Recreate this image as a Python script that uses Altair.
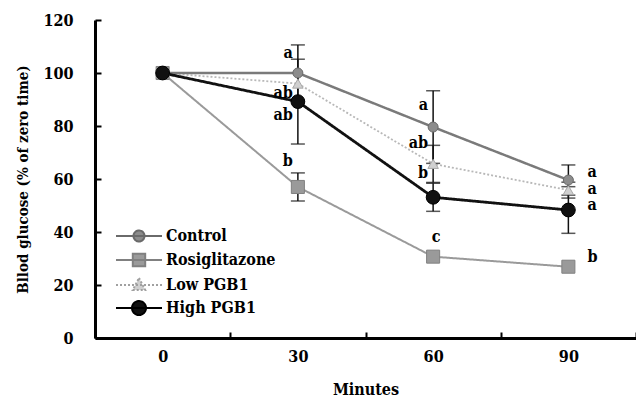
import altair as alt
import pandas as pd

# ---------------- data ----------------
minutes = [0, 30, 60, 90]
series_names = ["Control", "Rosiglitazone", "Low PGB1", "High PGB1"]

control = [100, 100, 79.6, 59.6]
control_err = [0, 10.6, 13.7, 5.7]
rosi = [100, 57.0, 30.7, 26.9]
rosi_err = [0, 5.3, 0, 0]
low = [100, 96.0, 65.7, 55.8]
low_err = [0, 0, 7.0, 3.0]
high = [100, 89.2, 53.1, 48.3]
high_err = [0, 16.0, 5.3, 8.8]

ann_minute = [30, 30, 30, 30, 60, 60, 60, 60, 90, 90, 90, 90]
ann_value = [107.5, 92.5, 84.0, 66.8, 88.0, 73.6, 62.3, 38.0, 62.6, 56.2, 50.2, 30.6]
ann_text = ["a", "ab", "ab", "b", "a", "ab", "b", "c", "a", "a", "a", "b"]

y_ticks = [0, 20, 40, 60, 80, 100, 120]

# ---------------- tables ----------------
rows = []
for name, vals, errs in zip(series_names, [control, rosi, low, high],
                            [control_err, rosi_err, low_err, high_err]):
    for m, v, e in zip(minutes, vals, errs):
        rows.append({"series": name, "minute": m, "value": v, "err": e,
                     "lo": v - e, "hi": v + e})
df = pd.DataFrame(rows)
ann = pd.DataFrame({"minute": ann_minute, "value": ann_value, "text": ann_text})

# ---------------- styles ----------------
FONT = "DejaVu Serif Condensed"
line_color = {"Control": "#7a7a7a", "Rosiglitazone": "#9a9a9a",
              "Low PGB1": "#b8b8b8", "High PGB1": "#111111"}
line_width = {"Control": 2.5, "Rosiglitazone": 2.0, "Low PGB1": 1.8, "High PGB1": 2.8}
line_dash = {"Control": [1, 0], "Rosiglitazone": [1, 0], "Low PGB1": [2, 2], "High PGB1": [1, 0]}
pt_shape = {"Control": "circle", "Rosiglitazone": "square",
            "Low PGB1": "triangle-up", "High PGB1": "circle"}
pt_size = {"Control": 100, "Rosiglitazone": 170, "Low PGB1": 110, "High PGB1": 190}
pt_fill = {"Control": "#8c8c8c", "Rosiglitazone": "#9a9a9a",
           "Low PGB1": "#d0d0d0", "High PGB1": "#111111"}
pt_stroke = {"Control": "#6a6a6a", "Rosiglitazone": "#808080",
             "Low PGB1": "#a8a8a8", "High PGB1": "#000000"}

W, H = 541, 318
TICK = 6
xscale = alt.Scale(type="band", domain=minutes, paddingInner=0, paddingOuter=0)
yscale = alt.Scale(domain=[0, 120], nice=False, zero=True)

# inward ticks are drawn as very short dashed grid lines touching the axis
x_main = alt.X("minute:O", scale=xscale, axis=alt.Axis(
    title="Minutes", labelAngle=0, ticks=False, tickBand="extent",
    grid=True, gridColor="black", gridWidth=2, gridOpacity=1,
    gridDash=[TICK, H - TICK], gridDashOffset=TICK,
    domainColor="black", domainWidth=3,
    labelFont=FONT, labelFontSize=16, labelFontWeight="bold", labelColor="black",
    labelPadding=10,
    titleFont=FONT, titleFontSize=16, titleFontWeight="bold", titleColor="black",
    titlePadding=17))
y_main = alt.Y("value:Q", scale=yscale, axis=alt.Axis(
    title="Bllod glucose (% of zero time)", values=y_ticks, ticks=False,
    grid=True, gridColor="black", gridWidth=2, gridDash=[TICK, 2000], gridOpacity=1,
    domainColor="black", domainWidth=3,
    labelFont=FONT, labelFontSize=16, labelFontWeight="bold", labelColor="black",
    labelPadding=22,
    titleFont=FONT, titleFontSize=15, titleFontWeight="bold", titleColor="black",
    titlePadding=12))

x_plain = alt.X("minute:O", scale=xscale, axis=None)
y_plain = alt.Y("value:Q", scale=yscale, axis=None)

layers = []

# lines
order = ["Low PGB1", "Rosiglitazone", "Control", "High PGB1"]
for i, s in enumerate(order):
    base = alt.Chart(df).transform_filter(alt.datum.series == s)
    layers.append(base.mark_line(color=line_color[s], strokeWidth=line_width[s],
                                 strokeDash=line_dash[s]).encode(
        x=x_main if i == 0 else x_plain,
        y=y_main if i == 0 else y_plain))

# error bars
eb = alt.Chart(df).transform_filter("datum.err > 0")
layers.append(eb.mark_rule(color="#111111", strokeWidth=1.5).encode(
    x=x_plain, y=alt.Y("lo:Q", scale=yscale, axis=None), y2="hi:Q"))
layers.append(eb.mark_tick(color="#111111", thickness=1.5, size=14).encode(
    x=x_plain, y=alt.Y("lo:Q", scale=yscale, axis=None)))
layers.append(eb.mark_tick(color="#111111", thickness=1.5, size=14).encode(
    x=x_plain, y=alt.Y("hi:Q", scale=yscale, axis=None)))

# points
for s in order:
    base = alt.Chart(df).transform_filter(alt.datum.series == s)
    layers.append(base.mark_point(shape=pt_shape[s], filled=True, fill=pt_fill[s],
                                  stroke=pt_stroke[s], strokeWidth=1, size=pt_size[s],
                                  opacity=1).encode(x=x_plain, y=y_plain))

# significance letters
txt = dict(font=FONT, fontSize=16, fontWeight="bold", color="black", baseline="middle")
a_left = alt.Chart(ann).transform_filter("datum.minute < 90 && datum.text != 'c'")
layers.append(a_left.mark_text(align="right", dx=-5, **txt).encode(
    x=x_plain, y=y_plain, text="text:N"))
a_c = alt.Chart(ann).transform_filter("datum.text == 'c'")
layers.append(a_c.mark_text(align="center", dx=3, **txt).encode(
    x=x_plain, y=y_plain, text="text:N"))
a_right = alt.Chart(ann).transform_filter("datum.minute == 90")
layers.append(a_right.mark_text(align="left", dx=19, **txt).encode(
    x=x_plain, y=y_plain, text="text:N"))

# legend (no marks drawn; symbols are line + marker paths, 1 unit = 10 px)
leg_paths = [
    "M-2.3,0L2.3,0M0.55,0A0.55,0.55,0,1,1,-0.55,0A0.55,0.55,0,1,1,0.55,0Z",
    "M-2.3,0L2.3,0M-0.62,-0.62L0.62,-0.62L0.62,0.62L-0.62,0.62Z",
    "M-2.3,0L2.3,0M0,-0.7L0.62,0.5L-0.62,0.5Z",
    "M-2.3,0L2.3,0M0.7,0A0.7,0.7,0,1,1,-0.7,0A0.7,0.7,0,1,1,0.7,0Z",
]
leg = alt.Legend(orient="none", legendX=33, legendY=205, title=None, padding=0,
                 symbolSize=400, symbolStrokeWidth=2, rowPadding=3,
                 labelFont=FONT, labelFontSize=16, labelFontWeight="bold",
                 labelColor="black", labelOffset=16, labelLimit=300)
leg_base = alt.Chart(df).transform_filter("false")
layers.append(leg_base.mark_point(filled=True, opacity=1).encode(
    x=x_plain, y=y_plain,
    shape=alt.Shape("series:N", scale=alt.Scale(domain=series_names, range=leg_paths), legend=leg),
    fill=alt.Fill("series:N", scale=alt.Scale(domain=series_names,
                  range=[pt_fill[s] for s in series_names]), legend=leg),
    stroke=alt.Stroke("series:N", scale=alt.Scale(domain=series_names,
                      range=[pt_stroke[s] if s != "Low PGB1" else "#a0a0a0" for s in series_names]), legend=leg),
    strokeDash=alt.StrokeDash("series:N", scale=alt.Scale(domain=series_names,
                              range=[line_dash[s] for s in series_names]), legend=leg),
))

chart = alt.layer(*layers).properties(
    width=W, height=H,
    padding={"left": 95, "top": 20, "right": 0, "bottom": 65},
    autosize=alt.AutoSizeParams(type="none"),
    background="white",
).resolve_axis(x="independent", y="independent").configure_view(stroke=None)

chart.save("out.html", embed_options={"renderer": "svg", "actions": False})
